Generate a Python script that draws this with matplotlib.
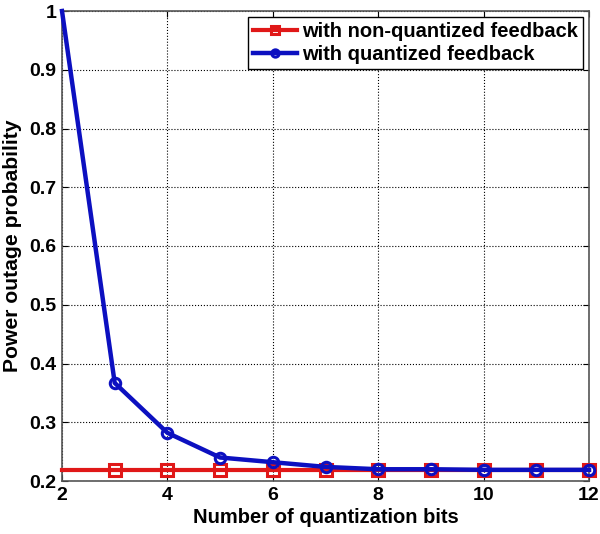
import matplotlib
matplotlib.use("Agg")
import matplotlib.pyplot as plt

plt.rcParams['font.family'] = ['Liberation Sans', 'DejaVu Sans']
plt.rcParams['font.weight'] = 'bold'

bits = [2, 3, 4, 5, 6, 7, 8, 9, 10, 11, 12]
non_quantized = [0.218, 0.218, 0.218, 0.218, 0.218, 0.218, 0.218, 0.218, 0.218, 0.218, 0.218]
quantized = [1.0, 0.367, 0.282, 0.240, 0.232, 0.224, 0.220, 0.220, 0.219, 0.219, 0.219]

fig = plt.figure(figsize=(6.0, 5.34), dpi=100)
ax = fig.add_axes([62 / 600, 53 / 534, 527 / 600, 470 / 534])

ax.plot(bits, non_quantized, color='#e01818', linewidth=3, marker='s', markersize=8,
        markerfacecolor='none', markeredgewidth=2.2, markevery=slice(1, None),
        label='with non-quantized feedback', clip_on=False, zorder=3)
ax.plot(bits, quantized, color='#0c10c0', linewidth=3.2, marker='o', markersize=7.5,
        markerfacecolor='none', markeredgewidth=2.2, markevery=slice(1, None),
        label='with quantized feedback', clip_on=False, zorder=4)

ax.set_xlim(2, 12)
ax.set_ylim(0.2, 1.0)
ax.set_xticks([2, 4, 6, 8, 10, 12])
ax.set_yticks([0.2, 0.3, 0.4, 0.5, 0.6, 0.7, 0.8, 0.9, 1.0])
ax.set_yticklabels(['0.2', '0.3', '0.4', '0.5', '0.6', '0.7', '0.8', '0.9', '1'])
ax.tick_params(labelsize=14, direction='in', length=4, colors='black',
               top=True, right=True, pad=4)
for lbl in ax.get_xticklabels() + ax.get_yticklabels():
    lbl.set_fontweight('bold')
ax.grid(True, linestyle=':', color='black', linewidth=0.8)
for s in ax.spines.values():
    s.set_color('#555555')
    s.set_linewidth(1.2)

ax.set_xlabel('Number of quantization bits', fontsize=14.5, fontweight='bold', labelpad=3)
ax.set_ylabel('Power outage probability', fontsize=15.2, fontweight='bold', labelpad=5)

leg = ax.legend(loc='upper right', fontsize=14.5, frameon=True, fancybox=False,
                edgecolor='black', handlelength=2.2, borderpad=0.25, labelspacing=0.2,
                borderaxespad=0.3, handletextpad=0.25, framealpha=1, markerscale=0.7)
leg.get_frame().set_linewidth(1.0)
for t in leg.get_texts():
    t.set_fontweight('bold')

fig.savefig('out.png', dpi=100)
